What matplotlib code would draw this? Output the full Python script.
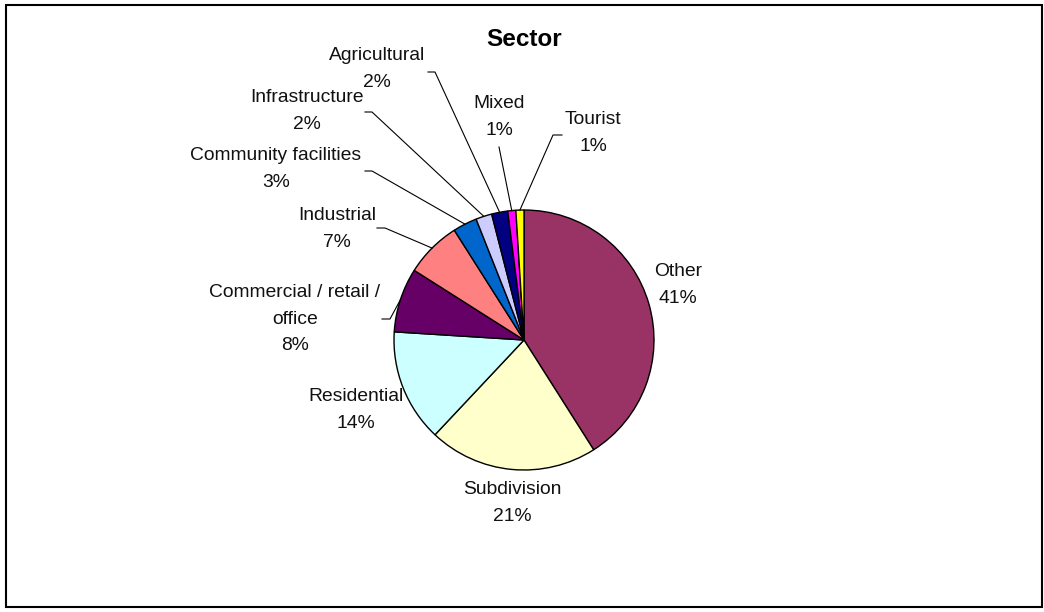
import matplotlib
matplotlib.use('Agg')
import matplotlib.pyplot as plt
from matplotlib.patches import Rectangle
import numpy as np

plt.rcParams['font.family'] = ['Liberation Sans', 'DejaVu Sans']

sectors = ['Other', 'Subdivision', 'Residential', 'Commercial / retail /\noffice',
           'Industrial', 'Community facilities', 'Infrastructure', 'Agricultural',
           'Mixed', 'Tourist']
shares = [41, 21, 14, 8, 7, 3, 2, 2, 1, 1]
colors = ['#993366', '#FFFFCC', '#CCFFFF', '#660066', '#FF8080',
          '#0066CC', '#CCCCFF', '#000080', '#FF00FF', '#FFFF00']

# label centres in pixel space, and the leader start (text side) points
label_xy = [(678, 285), (512, 503), (356, 410), (295, 319), (337, 229),
            (276, 169), (307, 111), (377, 69), (499, 117), (593, 133)]
leaders = [None, None, None,
           [(382, 319), (390, 319)],
           [(377, 228), (385, 228)],
           [(365, 171), (372, 171)],
           [(365, 112), (372, 112)],
           [(428, 72), (435, 72)],
           [(499, 147)],
           [(562, 135), (553, 135)]]

cx, cy, r = 524, 340, 130

fig = plt.figure(figsize=(10.44, 6.12), dpi=100)
ax = fig.add_axes([0, 0, 1, 1])

# y axis runs downward, so increasing angle is clockwise on screen
wedges, _ = ax.pie(shares, colors=colors, startangle=-90, counterclock=True,
                   center=(cx, cy), radius=r,
                   wedgeprops=dict(edgecolor='black', linewidth=1.0))
ax.set_xlim(0, 1044)
ax.set_ylim(612, 0)
ax.set_aspect('equal')
ax.axis('off')

for w, name, val, (tx, ty), lead in zip(wedges, sectors, shares, label_xy, leaders):
    ax.text(tx, ty, f'{name}\n{val}%', ha='center', va='center',
            fontsize=13.9, linespacing=1.72, color='#111111')
    if lead is not None:
        mid = np.deg2rad((w.theta1 + w.theta2) / 2)
        ex = cx + r * np.cos(mid)
        ey = cy + r * np.sin(mid)
        xs = [p[0] for p in lead] + [ex]
        ys = [p[1] for p in lead] + [ey]
        ax.plot(xs, ys, color='black', linewidth=0.8)

ax.text(524, 40, 'Sector', ha='center', va='center', fontsize=17.5,
        fontweight='bold')

ax.add_patch(Rectangle((6, 5), 1036, 602, fill=False, edgecolor='black',
                       linewidth=1.5))

fig.savefig('out.png', dpi=100)
